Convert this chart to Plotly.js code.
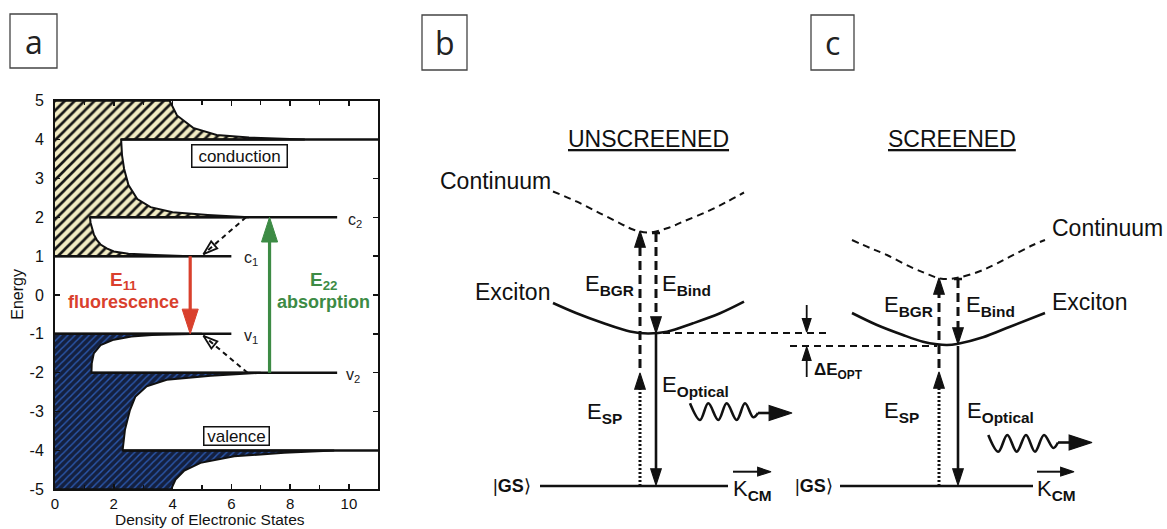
<!DOCTYPE html>
<html><head><meta charset="utf-8">
<script src="https://cdn.plot.ly/plotly-3.0.1.min.js"></script>
<style>html,body{margin:0;padding:0;background:#fff;}#chart{width:1167px;height:529px;}</style>
</head><body><div id="chart"></div>
<script>
// ================= Panel a : density of electronic states =================
const xTickVals = [0, 2, 4, 6, 8, 10];
const xTickText = ['0', '2', '4', '6', '8', '10'];
const yTickVals = [-5, -4, -3, -2, -1, 0, 1, 2, 3, 4, 5];
const yTickText = ['-5', '-4', '-3', '-2', '-1', '0', '1', '2', '3', '4', '5'];

// conduction-band DOS outline (x = DOS, y = energy)
const condDOS = [0, 4.6, 3.4, 2.5, 2.0, 1.76, 1.55, 1.42, 1.32, 1.25, 1.21, 1.19,
                 6.6, 5.2, 4.0, 3.25, 2.8, 2.5, 2.35, 2.28, 2.25,
                 8.5, 6.6, 5.5, 4.7, 4.15, 3.9, 0];
const condE   = [1.0, 1.0, 1.03, 1.06, 1.12, 1.2, 1.3, 1.42, 1.56, 1.72, 1.86, 2.0,
                 2.0, 2.06, 2.13, 2.26, 2.47, 2.83, 3.25, 3.6, 4.0,
                 4.0, 4.05, 4.12, 4.3, 4.62, 5.0, 5.0];
// valence-band DOS outline
const valDOS = [0, 5.0, 3.3, 2.6, 2.0, 1.55, 1.32, 1.25, 1.24,
                7.0, 5.3, 3.8, 3.12, 2.73, 2.55, 2.38, 2.3,
                9.5, 7.8, 6.1, 4.95, 4.4, 4.1, 3.95, 0];
const valE   = [-1.0, -1.0, -1.03, -1.07, -1.15, -1.29, -1.5, -1.76, -2.0,
                -2.0, -2.08, -2.18, -2.35, -2.62, -2.96, -3.47, -4.0,
                -4.0, -4.06, -4.15, -4.32, -4.52, -4.75, -5.0, -5.0];
// sub-band edge lines
const levelE     = [1, 2, 4, -1, -2, -4];
const levelStart = [0, 1.19, 2.25, 0, 1.24, 2.3];
const levelEnd   = [6.0, 9.6, 11, 6.0, 9.6, 11];
const levelNames = ['c<sub>1</sub>', 'c<sub>2</sub>', '', 'v<sub>1</sub>', 'v<sub>2</sub>', ''];
const levelLabelX = [6.36, 9.9, null, 6.36, 9.82, null];
// optical transitions
const fluorX = 4.6,  fluorFrom = 1.0,  fluorTo = -1.0;
const absorbX = 7.3, absorbFrom = -2.0, absorbTo = 2.0;
// relaxation (dashed) arrows
const relaxTailX = [6.5, 6.55], relaxTailY = [2.0, -2.0];
const relaxHeadX = [5.05, 5.05], relaxHeadY = [1.05, -1.05];

// ================= Panels b, c : schematic (figure-pixel coordinates) =================
const contBx = [553, 577, 600, 620, 633, 648, 667, 683, 707, 727, 744];
const contBy = [191.5, 201.7, 213.3, 223.3, 229.5, 232.5, 228.3, 221.7, 211.7, 201.7, 192.5];
const excBx  = [553, 576, 603, 630, 648, 667, 693, 720, 744];
const excBy  = [303, 313, 323, 331.5, 333.5, 331.7, 323.3, 313.3, 301.7];
const contCx = [852, 870, 887, 910, 925, 938, 948, 960, 983, 1010, 1033, 1045];
const contCy = [240, 248, 255, 266.7, 273, 278, 279, 277.3, 270, 256.7, 245, 240];
const excCx  = [852, 877, 903, 923, 937, 947, 957, 983, 1010, 1045];
const excCy  = [313, 325, 335, 341.7, 344.3, 345, 344, 337.3, 326.7, 313];
const gsX = [540, 728, null, 840, 1033];
const gsY = [486, 486, null, 486, 486];
// vertical arrows: E_SP, E_BGR, E_Bind, E_Optical
const arrowStyle = ['2px,2px', '9px,5px', '9px,5px', 'solid'];
const bArrowX    = [640, 640, 656, 656];
const bArrowTail = [486, 368, 233, 334];
const bArrowHead = [373, 231, 333, 485];
const cArrowX    = [939, 939, 958, 958];
const cArrowTail = [486, 368, 279, 346];
const cArrowHead = [372, 278, 344, 485];
// emitted photon (wavy arrows)
const waveBx = [690, 700, 708.3, 718.3, 726.7, 736.7, 745, 753.3, 758];
const waveBy = [403.3, 420, 403.3, 420, 403.3, 420, 403.3, 417.3, 413];
const waveBtail = [758, 792], waveBtailY = 413;
const waveCx = [988.3, 998.3, 1007.3, 1016.7, 1026, 1035, 1044, 1053.3, 1058];
const waveCy = [435, 451.7, 435, 451.7, 435, 451.7, 435, 448, 442.5];
const waveCtail = [1058, 1092], waveCtailY = 442.5;
// optical shift ΔE_OPT reference lines
const dEx = [663, 828, null, 790, 937];
const dEy = [333, 333, null, 346, 346];
const dEarrowX = 806.7;
const dEdownTail = 305, dEdownHead = 332;
const dEupTail = 377, dEupHead = 347;
// momentum arrows above K_CM
const kArrowFrom = [733, 1037], kArrowTo = [771, 1074], kArrowY = 471.7;

// ---------------------------------------------------------------------------
const BLACK = '#111';
const traces = [];
const skip = {hoverinfo: 'skip', showlegend: false};

traces.push(Object.assign({x: condDOS, y: condE, mode: 'lines', fill: 'toself',
  fillcolor: '#f2ecc4',
  fillpattern: {shape: '/', bgcolor: '#f2ecc4', fgcolor: '#151515', size: 7, solidity: 0.38},
  line: {color: BLACK, width: 2}, xaxis: 'x', yaxis: 'y'}, skip));
traces.push(Object.assign({x: valDOS, y: valE, mode: 'lines', fill: 'toself',
  fillcolor: '#14203f',
  fillpattern: {shape: '/', bgcolor: '#14203f', fgcolor: '#2b58ad', size: 5, solidity: 0.28},
  line: {color: BLACK, width: 2}, xaxis: 'x', yaxis: 'y'}, skip));

const lvX = [], lvY = [];
levelE.forEach((e, i) => { lvX.push(levelStart[i], levelEnd[i], null); lvY.push(e, e, null); });
traces.push(Object.assign({x: lvX, y: lvY, mode: 'lines', line: {color: BLACK, width: 2.5}, xaxis: 'x', yaxis: 'y'}, skip));

const rxX = [], rxY = [];
relaxTailX.forEach((t, i) => { rxX.push(t, relaxHeadX[i], null); rxY.push(relaxTailY[i], relaxHeadY[i], null); });
traces.push(Object.assign({x: rxX, y: rxY, mode: 'lines', line: {color: BLACK, width: 2, dash: '5px,4px'}, xaxis: 'x', yaxis: 'y'}, skip));

// transition arrows of panel a (shafts)
const pxPerX = (378.3 - 55) / 11, pxPerY = (489.3 - 100.7) / 10;
traces.push(Object.assign({x: [fluorX, fluorX], y: [fluorFrom, fluorTo + 0.3], mode: 'lines',
  line: {color: '#d9402d', width: 3.2}, xaxis: 'x', yaxis: 'y'}, skip));
traces.push(Object.assign({x: [absorbX, absorbX], y: [absorbFrom, absorbTo - 0.3], mode: 'lines',
  line: {color: '#3d8b45', width: 3.2}, xaxis: 'x', yaxis: 'y'}, skip));
function angleOf(tx, ty, hx, hy) {
  const dx = (hx - tx) * pxPerX, dy = -(hy - ty) * pxPerY;
  return Math.atan2(dx, -dy) * 180 / Math.PI;
}
traces.push(Object.assign({x: [fluorX, absorbX], y: [fluorTo, absorbTo], mode: 'markers', xaxis: 'x', yaxis: 'y',
  marker: {symbol: 'arrow', size: 26, angle: [180, 0], color: ['#d9402d', '#3d8b45'],
    line: {width: 1, color: ['#d9402d', '#3d8b45']}}}, skip));
traces.push(Object.assign({x: relaxHeadX, y: relaxHeadY, mode: 'markers', xaxis: 'x', yaxis: 'y',
  marker: {symbol: 'arrow-open', size: 15,
    angle: relaxHeadX.map((h, i) => angleOf(relaxTailX[i], relaxTailY[i], h, relaxHeadY[i])),
    color: BLACK, line: {width: 1.8, color: BLACK}}}, skip));

// schematic traces
function sch(x, y, width, dash, shape) {
  traces.push(Object.assign({x: x, y: y, mode: 'lines', xaxis: 'x2', yaxis: 'y2',
    line: {color: BLACK, width: width, dash: dash || 'solid', shape: shape || 'linear', smoothing: 1}}, skip));
}
sch(contBx, contBy, 2, '7px,5px', 'spline');
sch(contCx, contCy, 2, '7px,5px', 'spline');
sch(excBx, excBy, 2.6, 'solid', 'spline');
sch(excCx, excCy, 2.6, 'solid', 'spline');
sch(gsX, gsY, 2.6);
sch(dEx, dEy, 2, '7px,5px');

const headX = [], headY = [], headAng = [], headSize = [];
function head(x, y, ang, size) { headX.push(x); headY.push(y); headAng.push(ang); headSize.push(size); }

function vArrows(xs, tails, heads) {
  xs.forEach((x, i) => {
    const dir = heads[i] > tails[i] ? 1 : -1;       // +1: pointing down on screen
    sch([x, x], [tails[i], heads[i] - dir * 8], i === 3 ? 2.6 : 3, arrowStyle[i]);
    head(x, heads[i], dir > 0 ? 180 : 0, 17);
  });
  // T-bar at the top of the E_Bind arrow
  sch([xs[2] - 4, xs[2] + 4], [tails[2], tails[2]], 2.5);
}
vArrows(bArrowX, bArrowTail, bArrowHead);
vArrows(cArrowX, cArrowTail, cArrowHead);

sch(waveBx, waveBy, 2.6, 'solid', 'spline');
sch([waveBtail[0], waveBtail[1] - 10], [waveBtailY, waveBtailY], 2.6);
head(waveBtail[1], waveBtailY, 90, 24);
sch(waveCx, waveCy, 2.6, 'solid', 'spline');
sch([waveCtail[0], waveCtail[1] - 10], [waveCtailY, waveCtailY], 2.6);
head(waveCtail[1], waveCtailY, 90, 24);

sch([dEarrowX, dEarrowX], [dEdownTail, dEdownHead - 6], 1.8);
head(dEarrowX, dEdownHead, 180, 14);
sch([dEarrowX, dEarrowX], [dEupTail, dEupHead + 6], 1.8);
head(dEarrowX, dEupHead, 0, 14);

kArrowFrom.forEach((k, i) => {
  sch([k, kArrowTo[i] - 6], [kArrowY, kArrowY], 2);
  head(kArrowTo[i], kArrowY, 90, 14);
});
traces.push(Object.assign({x: headX, y: headY, mode: 'markers', xaxis: 'x2', yaxis: 'y2',
  marker: {symbol: 'arrow', size: headSize, angle: headAng, color: BLACK, opacity: 1,
    line: {width: 1.2, color: BLACK}}}, skip));

// ---------- text ----------
const annotations = [];
const F = 'Liberation Sans, Arial, Helvetica, sans-serif';
function txt(x, y, text, size, xanchor, opts) {
  annotations.push(Object.assign({x: x, y: y, xref: 'x2', yref: 'y2', text: text, showarrow: false,
    xanchor: xanchor || 'center', yanchor: 'middle', font: {family: F, size: size, color: BLACK}}, opts || {}));
}
function txtA(x, y, text, size, color, xanchor, opts) {
  annotations.push(Object.assign({x: x, y: y, xref: 'x', yref: 'y', text: text, showarrow: false,
    xanchor: xanchor || 'center', yanchor: 'middle', font: {family: F, size: size, color: color}}, opts || {}));
}
// panel letters
const letterFont = {family: 'Open Sans, sans-serif', size: 32, color: '#222'};
txt(33.5, 41, 'a', 32, 'center', {font: letterFont});
txt(444.5, 42, 'b', 32, 'center', {font: letterFont});
txt(832.5, 42, 'c', 32, 'center', {font: letterFont});

// panel a text
levelNames.forEach((n, i) => { if (n) txtA(levelLabelX[i], levelE[i] - 0.07, n, 16, '#222', 'left'); });
txtA(6.27, 3.58, 'conduction', 17, BLACK, 'center', {bordercolor: BLACK, borderwidth: 1.5, borderpad: 1, width: 92, height: 19, bgcolor: '#fff'});
txtA(6.19, -3.63, 'valence', 17, BLACK, 'center', {bordercolor: BLACK, borderwidth: 1.5, borderpad: 1, width: 62, height: 15, bgcolor: '#fff'});
txtA(2.33, 0.37, '<b>E<sub>11</sub></b>', 19, '#d9402d');
txtA(2.33, -0.18, '<b>fluorescence</b>', 18, '#d9402d');
txtA(9.13, 0.37, '<b>E<sub>22</sub></b>', 19, '#3d8b45');
txtA(9.12, -0.18, '<b>absorption</b>', 18, '#3d8b45');
annotations.push({x: 16.7, y: 294, xref: 'x2', yref: 'y2', text: 'Energy', textangle: -90, showarrow: false,
  font: {family: F, size: 16, color: BLACK}});
annotations.push({x: 210, y: 519.5, xref: 'x2', yref: 'y2', text: 'Density of Electronic States', showarrow: false,
  font: {family: F, size: 15.5, color: BLACK}});

// panels b, c text
txt(648, 139, '<u>UNSCREENED</u>', 23);
txt(951.7, 139, '<u>SCREENED</u>', 23);
txt(495, 181, 'Continuum', 23);
txt(512, 292, 'Exciton', 23);
txt(1050, 228, 'Continuum', 23, 'left');
txt(1050, 302, 'Exciton', 23, 'left');
txt(636, 285, 'E<sub><b>BGR</b></sub>', 22, 'right');
txt(660, 285, 'E<sub><b>Bind</b></sub>', 22, 'left');
txt(660, 386, 'E<sub><b>Optical</b></sub>', 22, 'left');
txt(585, 413, 'E<sub><b>SP</b></sub>', 22, 'left');
txt(935, 306, 'E<sub><b>BGR</b></sub>', 22, 'right');
txt(964, 306, 'E<sub><b>Bind</b></sub>', 22, 'left');
txt(882, 412, 'E<sub><b>SP</b></sub>', 22, 'left');
txt(965, 412, 'E<sub><b>Optical</b></sub>', 22, 'left');
txt(512, 486, '|<b>GS</b>⟩', 18);
txt(814, 486, '|<b>GS</b>⟩', 18);
txt(731, 490, 'K<sub><b>CM</b></sub>', 22, 'left');
txt(1035, 490, 'K<sub><b>CM</b></sub>', 22, 'left');
txt(812, 371, '<b>ΔE<sub>OPT</sub></b>', 17, 'left');

const shapes = [
  {type: 'rect', xref: 'x2', yref: 'y2', x0: 10, x1: 57, y0: 14, y1: 68, line: {color: '#444', width: 1.3}},
  {type: 'rect', xref: 'x2', yref: 'y2', x0: 422, x1: 467, y0: 15, y1: 70, line: {color: '#444', width: 1.3}},
  {type: 'rect', xref: 'x2', yref: 'y2', x0: 811, x1: 854, y0: 15, y1: 70, line: {color: '#444', width: 1.3}}
];

const layout = {
  width: 1167, height: 529, margin: {l: 0, r: 0, t: 0, b: 0},
  paper_bgcolor: '#fff', plot_bgcolor: 'rgba(0,0,0,0)', showlegend: false,
  font: {family: F, color: BLACK},
  xaxis: {domain: [55 / 1167, 378.3 / 1167], range: [0, 11], anchor: 'y',
    tickvals: xTickVals, ticktext: xTickText, ticks: 'inside', ticklen: 5, tickwidth: 1.5, tickcolor: BLACK,
    minor: {tickvals: [1, 3, 5, 7, 9], ticks: 'inside', ticklen: 4, tickwidth: 1.3, tickcolor: BLACK},
    mirror: 'ticks', showline: true, linewidth: 2, linecolor: BLACK, showgrid: false, zeroline: false,
    tickfont: {family: F, size: 15, color: BLACK}, ticklabelstandoff: 0, fixedrange: true},
  yaxis: {domain: [1 - 489.3 / 529, 1 - 100.7 / 529], range: [-5, 5], anchor: 'x',
    tickvals: yTickVals, ticktext: yTickText, ticks: 'inside', ticklen: 5, tickwidth: 1.5, tickcolor: BLACK,
    mirror: 'ticks', showline: true, linewidth: 2, linecolor: BLACK, showgrid: false, zeroline: false,
    tickfont: {family: F, size: 16, color: BLACK}, ticklabelstandoff: 6, fixedrange: true},
  xaxis2: {domain: [0, 1], range: [0, 1167], anchor: 'y2', visible: false, fixedrange: true},
  yaxis2: {domain: [0, 1], range: [529, 0], anchor: 'x2', visible: false, fixedrange: true},
  annotations: annotations, shapes: shapes
};

Plotly.newPlot('chart', traces, layout, {staticPlot: true, displayModeBar: false});
</script>
</body></html>
